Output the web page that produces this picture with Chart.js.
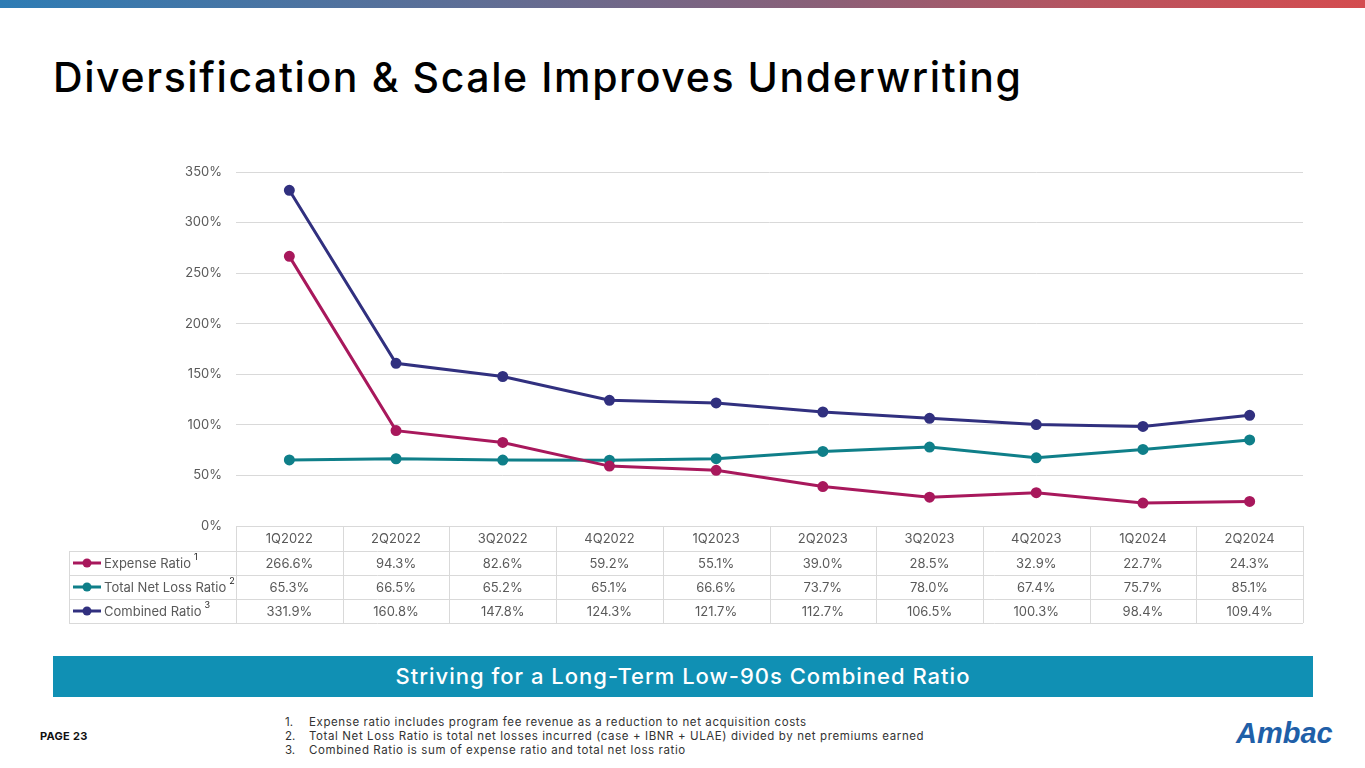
<!DOCTYPE html>
<html>
<head>
<meta charset="utf-8">
<script src="https://cdn.jsdelivr.net/npm/chart.js@4"></script>
<style>
  html, body { margin: 0; padding: 0; background: #fff; }
  body { width: 1365px; height: 768px; position: relative; overflow: hidden; font-family: Inter, "Noto Sans", sans-serif; }
  .topbar { position: absolute; left: 0; top: 0; width: 1365px; height: 8px;
    background: linear-gradient(90deg, #2e7cb4 0%, #5f6e95 35%, #8a6078 60%, #b8545f 80%, #d44c4f 100%); }
  h1 { position: absolute; left: 53px; top: 52px; margin: 0; font-size: 41px; font-weight: 500; color: #000; letter-spacing: 1.6px; }
  .chart-wrap { position: absolute; left: 0; top: 140px; width: 1365px; height: 500px; }
  .banner { position: absolute; left: 53px; top: 656px; width: 1260px; height: 41px; background: #1090b4;
    color: #fff; font-size: 22px; font-weight: 500; text-align: center; line-height: 41px; letter-spacing: 1px; }
  .page { position: absolute; left: 40px; top: 729px; font-size: 11px; font-weight: 700; color: #111; letter-spacing: 0.3px; }
  .notes { position: absolute; left: 285px; top: 715px; font-size: 11.5px; color: #333; line-height: 14px; letter-spacing: 0.6px; }
  .notes span { display: inline-block; width: 24px; letter-spacing: 0; }
  .logo { position: absolute; left: 1236px; top: 717px; font-family: "Liberation Sans", Arial, sans-serif;
    font-size: 29px; font-weight: 700; font-style: italic; color: #1f5fa8; letter-spacing: 0px; }
</style>
</head>
<body>
<div class="topbar"></div>
<h1>Diversification &amp; Scale Improves Underwriting</h1>
<div class="chart-wrap"><canvas id="ratio-chart"></canvas></div>
<div class="banner">Striving for a Long-Term Low-90s Combined Ratio</div>
<div class="page">PAGE 23</div>
<div class="notes">
  <div><span>1.</span>Expense ratio includes program fee revenue as a reduction to net acquisition costs</div>
  <div><span>2.</span>Total Net Loss Ratio is total net losses incurred (case + IBNR + ULAE) divided by net premiums earned</div>
  <div><span>3.</span>Combined Ratio is sum of expense ratio and total net loss ratio</div>
</div>
<div class="logo">Ambac</div>

<script>
const quarters = ['1Q2022', '2Q2022', '3Q2022', '4Q2022', '1Q2023', '2Q2023', '3Q2023', '4Q2023', '1Q2024', '2Q2024'];
const expenseRatio = [266.6, 94.3, 82.6, 59.2, 55.1, 39.0, 28.5, 32.9, 22.7, 24.3];
const netLossRatio = [65.3, 66.5, 65.2, 65.1, 66.6, 73.7, 78.0, 67.4, 75.7, 85.1];
const combinedRatio = [331.9, 160.8, 147.8, 124.3, 121.7, 112.7, 106.5, 100.3, 98.4, 109.4];
const seriesNames = ['Expense Ratio', 'Total Net Loss Ratio', 'Combined Ratio'];
const seriesNotes = ['1', '2', '3'];
const seriesColors = ['#a8185c', '#0f7f89', '#31307f'];
const yTicks = [0, 50, 100, 150, 200, 250, 300, 350];

const FONT = 'Inter, "Noto Sans", sans-serif';
const GRID = '#d9d9d9';
const TEXT = '#595959';

// data table under the plot, columns follow the x scale
const dataTable = {
  id: 'dataTable',
  afterDraw(chart) {
    const ctx = chart.ctx;
    const x = chart.scales.x;
    const area = chart.chartArea;
    const half = (x.getPixelForValue(1) - x.getPixelForValue(0)) / 2;
    const left = 69, colLeft = area.left, right = area.right;
    const headH = 25, rowH = 24;
    const top = area.bottom;
    const rowsTop = top + headH;
    const bottom = rowsTop + rowH * 3;

    ctx.save();
    ctx.strokeStyle = GRID;
    ctx.lineWidth = 1;
    ctx.beginPath();
    ctx.moveTo(colLeft, top + 0.5); ctx.lineTo(right, top + 0.5);
    for (let r = 0; r <= 3; r++) {
      const y = Math.round(rowsTop + r * rowH) + 0.5;
      ctx.moveTo(left, y); ctx.lineTo(right, y);
    }
    ctx.moveTo(left + 0.5, rowsTop); ctx.lineTo(left + 0.5, bottom);
    for (let i = 0; i <= quarters.length; i++) {
      const xp = Math.round(x.getPixelForValue(i) - half) + 0.5;
      ctx.moveTo(xp, top); ctx.lineTo(xp, bottom);
    }
    ctx.stroke();

    ctx.fillStyle = TEXT;
    ctx.font = '13px ' + FONT;
    ctx.textAlign = 'center';
    ctx.textBaseline = 'middle';
    quarters.forEach((q, i) => ctx.fillText(q, x.getPixelForValue(i), top + headH / 2 + 1));

    chart.data.datasets.forEach((ds, r) => {
      const cy = rowsTop + r * rowH + rowH / 2 + 1;
      ctx.font = '13px ' + FONT;
      ds.data.forEach((v, i) => {
        ctx.fillStyle = TEXT;
        ctx.textAlign = 'center';
        ctx.fillText(v.toFixed(1) + '%', x.getPixelForValue(i), cy);
      });
      // legend key
      ctx.strokeStyle = ds.borderColor;
      ctx.lineWidth = 3;
      ctx.beginPath();
      ctx.moveTo(73, cy - 1); ctx.lineTo(101, cy - 1);
      ctx.stroke();
      ctx.fillStyle = ds.borderColor;
      ctx.beginPath();
      ctx.arc(87, cy - 1, 4.5, 0, Math.PI * 2);
      ctx.fill();
      ctx.fillStyle = TEXT;
      ctx.textAlign = 'left';
      ctx.fillText(seriesNames[r], 104, cy);
      const w = ctx.measureText(seriesNames[r]).width;
      ctx.fillStyle = '#222';
      ctx.font = '9px ' + FONT;
      ctx.fillText(seriesNotes[r], 104 + w + 3, cy - 7);
    });
    ctx.restore();
  }
};

const datasets = [expenseRatio, netLossRatio, combinedRatio].map((data, i) => ({
  label: seriesNames[i],
  data: data,
  borderColor: seriesColors[i],
  backgroundColor: seriesColors[i],
  pointBackgroundColor: seriesColors[i],
  pointBorderColor: seriesColors[i],
  borderWidth: 3,
  pointRadius: 4,
  pointHoverRadius: 4,
  tension: 0
}));

new Chart(document.getElementById('ratio-chart'), {
  type: 'line',
  data: { labels: quarters, datasets: datasets },
  options: {
    responsive: true,
    maintainAspectRatio: false,
    animation: false,
    layout: { padding: { left: 176, right: 62, top: 32, bottom: 114 } },
    plugins: { legend: { display: false }, tooltip: { enabled: false } },
    scales: {
      x: { type: 'category', offset: true, display: false },
      y: {
        min: 0,
        max: 350,
        afterFit(scale) { scale.width = 60; },
        afterBuildTicks(scale) { scale.ticks = yTicks.map(v => ({ value: v })); },
        border: { display: false },
        grid: { color: GRID, lineWidth: 1, drawTicks: false },
        ticks: { color: TEXT, padding: 14, font: { family: FONT, size: 13 }, callback: v => v + '%' }
      }
    }
  },
  plugins: [dataTable]
});
</script>
</body>
</html>
